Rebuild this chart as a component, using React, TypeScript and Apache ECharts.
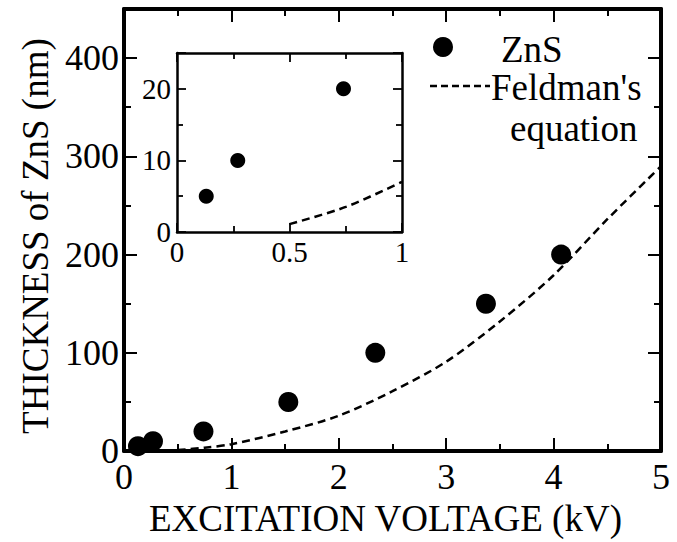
import { useEffect, useRef } from "react";
import * as echarts from "echarts";

// Measured ZnS thickness vs excitation voltage
const voltage = [0.13, 0.27, 0.74, 1.53, 2.34, 3.37, 4.07];
const thickness = [5, 10, 20, 50, 100, 150, 200];
// Feldman's equation curve
const feldmanV = [0.5, 0.75, 1, 1.5, 2, 2.5, 3, 3.5, 4, 4.5, 5];
const feldmanT = [1.1, 3.5, 7, 20, 36, 61, 91, 132, 179, 236, 290];
// Axis ranges
const mainX = [0, 5];
const mainY = [0, 450];
const insetX = [0, 1];
const insetY = [0, 25];

const FONT = "Liberation Serif";

export default function App() {
  const ref = useRef<HTMLDivElement>(null);
  useEffect(() => {
    if (!ref.current) return;
    const chart = echarts.init(ref.current, undefined, { renderer: "svg" });
    const pts = voltage.map((v, i) => [v, thickness[i]]);
    const curve = feldmanV.map((v, i) => [v, feldmanT[i]]);
    const insetPts = pts.filter((p) => p[0] <= insetX[1]);
    const insetCurve = curve.filter((p) => p[0] <= insetX[1]);

    const black = "#000";
    const mainLine = { show: true, onZero: false, lineStyle: { color: black, width: 4 } };
    const mainTick = { show: true, inside: true, length: 13, lineStyle: { color: black, width: 2 } };
    const mainMinor = { show: true, splitNumber: 2, length: 7, lineStyle: { color: black, width: 2 } };
    const insLine = { show: true, onZero: false, lineStyle: { color: black, width: 2.5 } };
    const insTick = { show: true, inside: true, length: 9, lineStyle: { color: black, width: 1.8 } };
    const insMinor = { show: true, splitNumber: 2, length: 6, lineStyle: { color: black, width: 1.8 } };
    const txt = (size: number) => ({ fontSize: size, fontFamily: FONT, color: black });

    chart.setOption({
      animation: false,
      backgroundColor: "#fff",
      textStyle: { fontFamily: FONT, color: black },
      grid: [
        { left: 124, right: 16, top: 9, bottom: 80.5 },
        { left: 177, width: 225, top: 53, bottom: 310 },
      ],
      xAxis: [
        {
          type: "value", gridIndex: 0, min: mainX[0], max: mainX[1], interval: 1,
          name: "EXCITATION VOLTAGE (kV)", nameLocation: "middle", nameGap: 41,
          nameTextStyle: { ...txt(37), padding: [0, 14, 0, 0] },
          axisLine: mainLine, axisTick: mainTick, minorTick: mainMinor,
          axisLabel: { ...txt(36), margin: 8 },
          splitLine: { show: false },
        },
        {
          type: "value", gridIndex: 0, position: "top", min: mainX[0], max: mainX[1], interval: 1,
          axisLine: mainLine, axisTick: mainTick, minorTick: mainMinor,
          axisLabel: { show: false }, splitLine: { show: false },
        },
        {
          type: "value", gridIndex: 1, min: insetX[0], max: insetX[1], interval: 0.5,
          axisLine: insLine, axisTick: insTick, minorTick: insMinor,
          axisLabel: { ...txt(29), margin: 5 },
          splitLine: { show: false },
        },
        {
          type: "value", gridIndex: 1, position: "top", min: insetX[0], max: insetX[1], interval: 0.5,
          axisLine: insLine, axisTick: insTick, minorTick: insMinor,
          axisLabel: { show: false }, splitLine: { show: false },
        },
      ],
      yAxis: [
        {
          type: "value", gridIndex: 0, min: mainY[0], max: mainY[1], interval: 100,
          name: "THICKNESS of ZnS (nm)", nameLocation: "middle", nameGap: 68,
          nameTextStyle: { ...txt(37), padding: [0, 12, 0, 0] },
          axisLine: mainLine, axisTick: mainTick, minorTick: mainMinor,
          axisLabel: { ...txt(36), margin: 5, showMaxLabel: false },
          splitLine: { show: false },
        },
        {
          type: "value", gridIndex: 0, position: "right", min: mainY[0], max: mainY[1], interval: 100,
          axisLine: mainLine, axisTick: mainTick, minorTick: mainMinor,
          axisLabel: { show: false }, splitLine: { show: false },
        },
        {
          type: "value", gridIndex: 1, min: insetY[0], max: insetY[1], interval: 10,
          axisLine: insLine, axisTick: insTick, minorTick: insMinor,
          axisLabel: { ...txt(29), margin: 6, showMaxLabel: false },
          splitLine: { show: false },
        },
        {
          type: "value", gridIndex: 1, position: "right", min: insetY[0], max: insetY[1], interval: 10,
          axisLine: insLine, axisTick: insTick, minorTick: insMinor,
          axisLabel: { show: false }, splitLine: { show: false },
        },
      ],
      series: [
        {
          name: "Feldman's equation", type: "line", xAxisIndex: 0, yAxisIndex: 0,
          data: curve, smooth: 0.3, showSymbol: false, symbol: "none",
          lineStyle: { color: black, width: 2.5, type: [8, 5] },
        },
        {
          name: "ZnS", type: "scatter", xAxisIndex: 0, yAxisIndex: 0, data: pts,
          symbol: "circle", symbolSize: 20, itemStyle: { color: black, opacity: 1 }, clip: false, z: 5,
        },
        {
          name: "Feldman's equation (inset)", type: "line", xAxisIndex: 2, yAxisIndex: 2,
          data: insetCurve, smooth: 0.3, showSymbol: false, symbol: "none",
          lineStyle: { color: black, width: 2.5, type: [8, 5] },
        },
        {
          name: "ZnS (inset)", type: "scatter", xAxisIndex: 2, yAxisIndex: 2, data: insetPts,
          symbol: "circle", symbolSize: 15, itemStyle: { color: black, opacity: 1 }, clip: false, z: 5,
        },
      ],
      graphic: [
        { type: "text", left: 0, top: -20, style: { text: "062", fill: "#e02020", fontFamily: FONT, fontSize: 24, fontWeight: "bold" } },
        { type: "circle", shape: { cx: 443, cy: 47, r: 10 }, style: { fill: black } },
        { type: "text", x: 501, y: 49.5, style: { text: "ZnS", fill: black, fontFamily: FONT, fontSize: 37, verticalAlign: "middle" } },
        { type: "line", shape: { x1: 430, y1: 86, x2: 490, y2: 86 }, style: { stroke: black, lineWidth: 2.5, lineDash: [7, 4] } },
        { type: "text", x: 491, y: 87.5, style: { text: "Feldman's", fill: black, fontFamily: FONT, fontSize: 37, verticalAlign: "middle" } },
        { type: "text", x: 510, y: 128, style: { text: "equation", fill: black, fontFamily: FONT, fontSize: 37, verticalAlign: "middle" } },
      ],
    });
    return () => chart.dispose();
  }, []);
  return (
    <div
      ref={ref}
      style={{ position: "fixed", left: 0, top: 0, width: 677, height: 542, background: "#fff" }}
    />
  );
}
